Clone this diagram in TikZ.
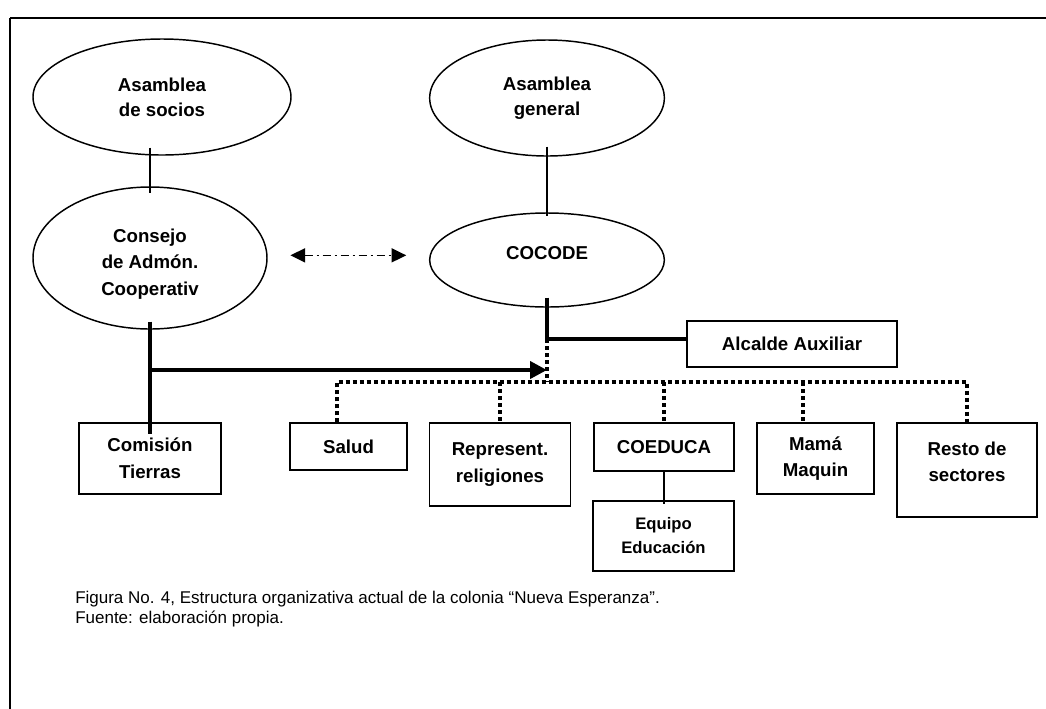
\documentclass[tikz,border=0pt]{standalone}
\usepackage{fontspec}
\setmainfont{Liberation Sans}
\usetikzlibrary{shapes.geometric,arrows.meta}
\begin{document}
\begin{tikzpicture}
    [%%%%%%%%%%%%%%%%%%%%%%%%%%%%%%
        x=0.75pt, y=-0.75pt,
        oval/.style={ellipse,draw=black,line width=1.1pt,inner sep=0pt,align=center,font=\bfseries\fontsize{14}{19}\selectfont},
        box/.style={rectangle,draw=black,line width=1.1pt,inner sep=0pt,align=center,font=\bfseries\fontsize{14}{20}\selectfont},
        thinline/.style={line width=1.1pt},
        boldline/.style={line width=3pt},
        dotline/.style={line width=3pt,dash pattern=on 3pt off 2.25pt},
        tip/.style={-{Triangle[length=12.75pt,width=12.75pt]}},
    ]%%%%%%%%%%%%%%%%%%%%%%%%%%%%%%
\useasboundingbox (0,0) rectangle (1046,708);
\draw[line width=2pt] (10,18) -- (1050,18);
\draw[line width=1.2pt] (10,18) -- (10,712);

\node[oval, minimum width=193.5pt, minimum height=87pt] (socios) at (162,97) {Asamblea\\de socios};
\node[oval, minimum width=175.5pt, minimum height=106.5pt, font=\bfseries\fontsize{14}{20}\selectfont] (consejo) at (150,258) {\rule{0pt}{19pt}Consejo\\de Admón.\\Cooperativ};
\node[oval, minimum width=176pt, minimum height=87pt] (general) at (547,98) {Asamblea\\general};
\node[oval, minimum width=176pt, minimum height=70.5pt] (cocode) at (547,260) {COCODE\rule[-10.5pt]{0pt}{10.5pt}};

\node[box, minimum width=157.5pt, minimum height=34.5pt] (alcalde) at (792,344) {Alcalde Auxiliar};
\node[box, minimum width=106.5pt, minimum height=53.25pt] (comision) at (150,458.5) {Comisión\\Tierras};
\node[box, minimum width=87.75pt, minimum height=35.25pt] (salud) at (348.5,446.5) {Salud};
\node[box, minimum width=105.75pt, minimum height=62.25pt] (represent) at (500,464.5) {Represent.\\religiones};
\node[box, minimum width=105pt, minimum height=36pt] (coeduca) at (664,447) {COEDUCA};
\node[box, minimum width=105.75pt, minimum height=52.5pt, font=\bfseries\fontsize{12.5}{18}\selectfont] (equipo) at (663.5,536) {Equipo\\Educación};
\node[box, minimum width=87.75pt, minimum height=53.25pt] (mama) at (815.5,458.5) {Mamá\\Maquin};
\node[box, minimum width=105pt, minimum height=70.5pt] (resto) at (967,470) {Resto de\\sectores\rule[-12.5pt]{0pt}{12.5pt}};

\coordinate (jct) at (547,339);
\coordinate (split) at (150,370);
\coordinate (busL) at (337,382);
\coordinate (busR) at (967,382);
\coordinate (mamadrop) at (803,382);

\draw[thinline, shorten <=-6pt, shorten >=-5pt] (socios.south -| consejo.north) -- (consejo.north);
\draw[thinline, shorten <=-7.5pt, shorten >=-3pt] (general) -- (cocode);
\draw[thinline, dash pattern=on 6pt off 3pt on 1.5pt off 3pt, {Triangle[length=11pt,width=10.5pt]}-{Triangle[length=11pt,width=10.5pt]}, shorten <=17pt, shorten >=17pt] ([yshift=2pt]consejo.east) -- ([yshift=2pt]consejo.east -| cocode.west);

\draw[boldline, shorten <=-7.5pt] (cocode.south) -- (jct) -- (jct -| alcalde.west);
\draw[dotline] (jct) -- (jct |- busL);
\draw[boldline, shorten <=-6pt, shorten >=-9pt] (consejo.south) -- (comision.north);
\draw[boldline, tip] (split) -- (split -| cocode.south);

\draw[dotline] (busL |- salud.north) -- (busL) -- (busR) -- (resto.north);
\draw[dotline] (represent.north |- busL) -- (represent.north);
\draw[dotline] (coeduca.north |- busL) -- (coeduca.north);
\draw[dotline] (mamadrop) -- (mamadrop |- mama.north);
\draw[thinline, shorten >=-3pt] (coeduca.south) -- (coeduca.south |- equipo.north);

\node[anchor=north west, inner sep=0pt, align=left, font=\fontsize{12.75}{15}\selectfont] (caption) at (75,591) {Figura No. 4, Estructura organizativa actual de la colonia “Nueva Esperanza”.\\Fuente: elaboración propia.};
\end{tikzpicture}
\end{document}
